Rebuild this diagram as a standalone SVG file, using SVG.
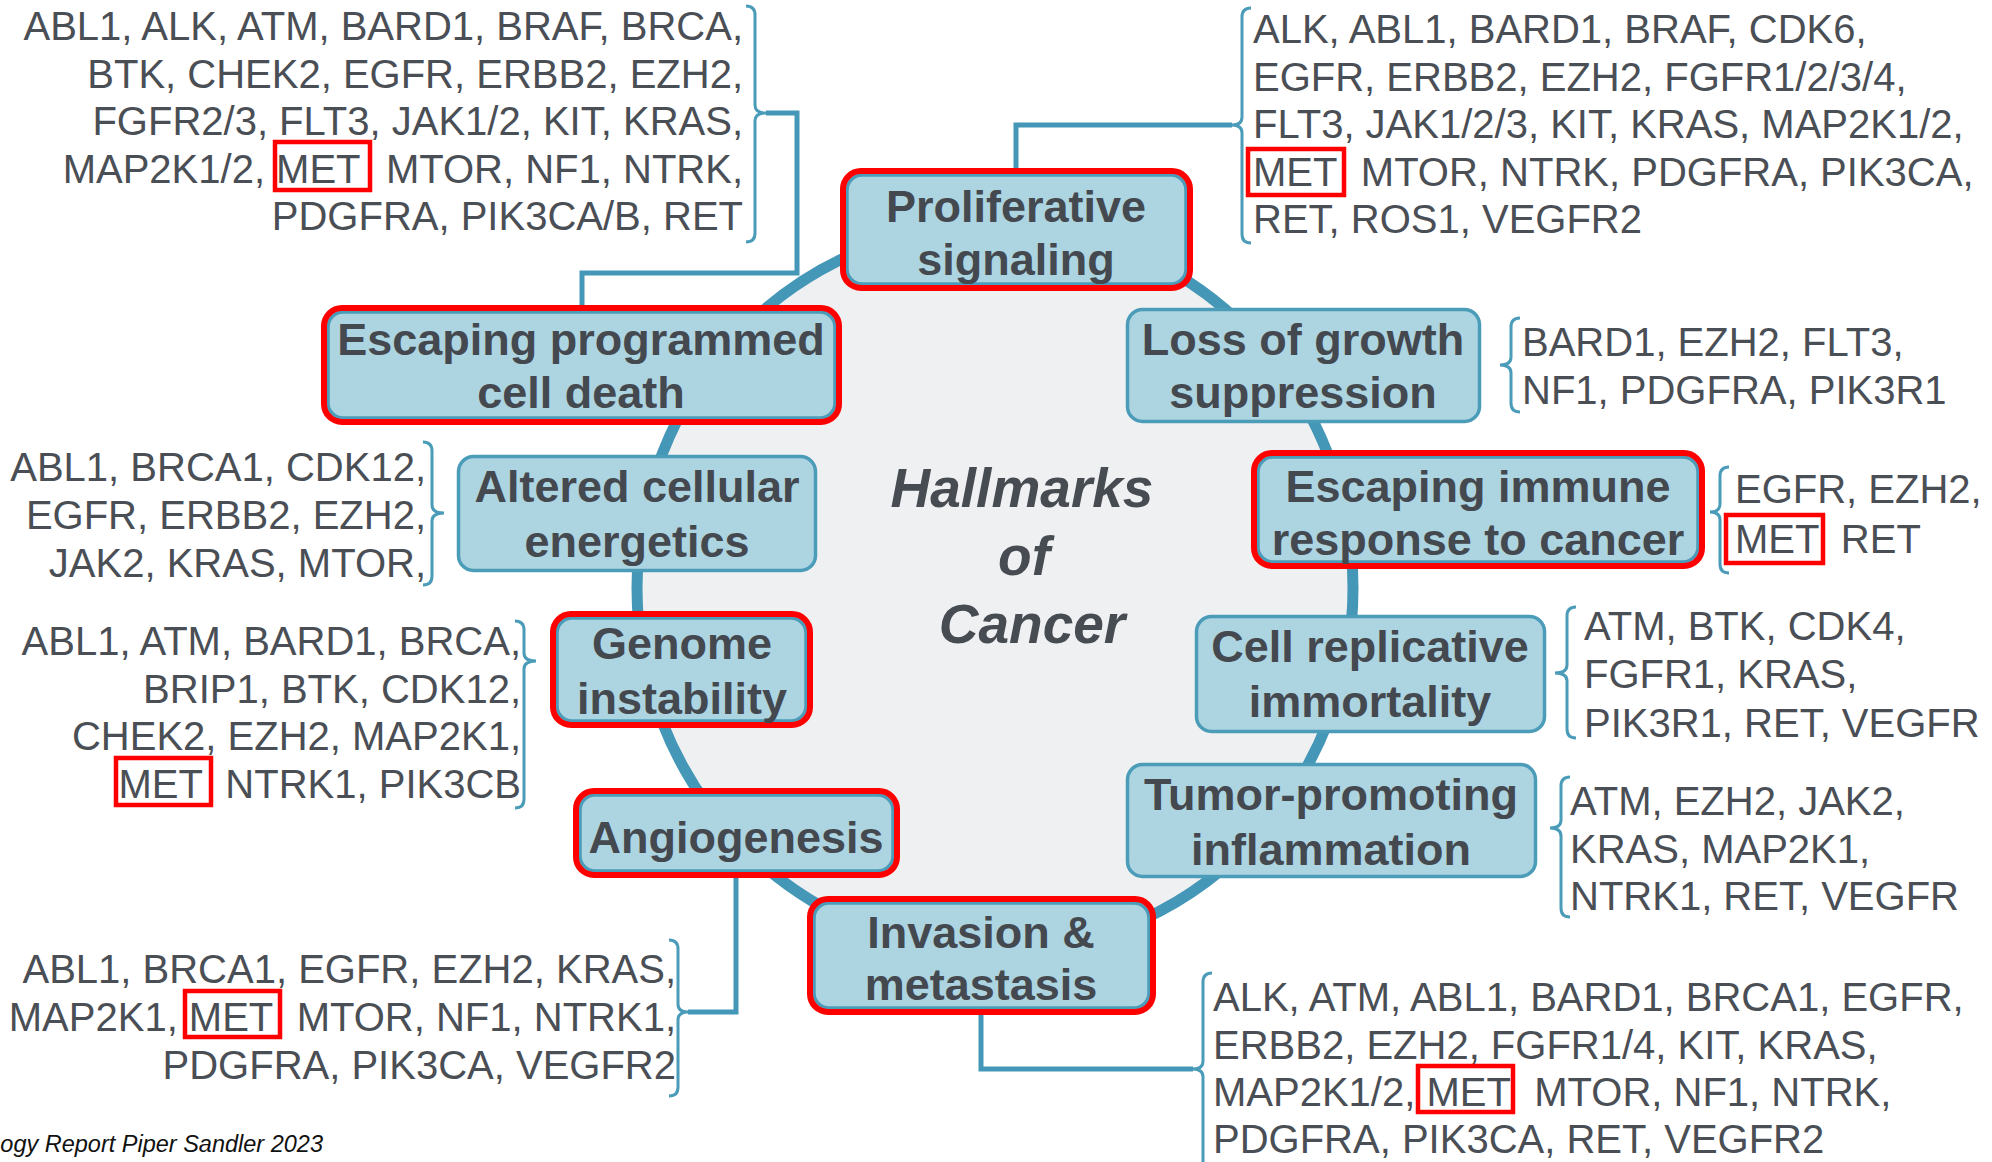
<svg xmlns="http://www.w3.org/2000/svg" width="1992" height="1162" viewBox="0 0 1992 1162">
<style>
.box{fill:#add4e1;stroke:#4b9cb9;stroke-width:3.5}
.hl{fill:none;stroke:#ff0000;stroke-width:6}
.lbl{font-family:"Liberation Sans",Arial,sans-serif;font-weight:bold;font-size:45px;fill:#44484f;text-anchor:middle}
.gene{font-family:"Liberation Sans",Arial,sans-serif;font-size:40px;fill:#4a4e55}
.end{text-anchor:end}
.brace{fill:none;stroke:#4b9cb9;stroke-width:3}
.conn{fill:none;stroke:#4497b6;stroke-width:5}
.met{fill:none;stroke:#ff0000;stroke-width:4.5}
.title{font-family:"Liberation Sans",Arial,sans-serif;font-weight:bold;font-style:italic;font-size:55px;fill:#474b52;text-anchor:middle}
</style>
<rect width="1992" height="1162" fill="#ffffff"/>
<g id="ring">
<ellipse cx="995" cy="588" rx="358" ry="364" fill="#eff0f2" stroke="#4497b6" stroke-width="11"/>
</g>
<g id="connectors">
<path class="conn" d="M766,113 H797 V273 H582 V306"/>
<path class="conn" d="M1016,172 V125 H1232"/>
<path class="conn" d="M688,1012 H736 V876"/>
<path class="conn" d="M981,1013 V1069 H1193"/>
<path class="brace" d="M746,6 Q755,6 755,15 L755,105 Q755,113 766,113 Q755,113 755,121 L755,233 Q755,242 746,242"/>
<path class="brace" d="M1251,8 Q1242,8 1242,17 L1242,117 Q1242,125 1232,125 Q1242,125 1242,133 L1242,234 Q1242,243 1251,243"/>
<path class="brace" d="M1520,318 Q1511,318 1511,327 L1511,357 Q1511,365 1500,365 Q1511,365 1511,373 L1511,403 Q1511,412 1520,412"/>
<path class="brace" d="M1729,467 Q1720,467 1720,476 L1720,504 Q1720,512 1710,512 Q1720,512 1720,520 L1720,564 Q1720,573 1729,573"/>
<path class="brace" d="M423,442 Q432,442 432,451 L432,505 Q432,513 444,513 Q432,513 432,521 L432,576 Q432,585 423,585"/>
<path class="brace" d="M515,621 Q524,621 524,630 L524,653 Q524,661 536,661 Q524,661 524,669 L524,799 Q524,808 515,808"/>
<path class="brace" d="M1576,607 Q1567,607 1567,616 L1567,665 Q1567,673 1555,673 Q1567,673 1567,681 L1567,729 Q1567,738 1576,738"/>
<path class="brace" d="M1570,777 Q1561,777 1561,786 L1561,820 Q1561,828 1550,828 Q1561,828 1561,836 L1561,908 Q1561,917 1570,917"/>
<path class="brace" d="M669,940 Q678,940 678,949 L678,1004 Q678,1012 688,1012 Q678,1012 678,1020 L678,1087 Q678,1096 669,1096"/>
<path class="brace" d="M1212,973 Q1203,973 1203,982 L1203,1061 Q1203,1069 1193,1069 Q1203,1069 1203,1077 L1203,1175"/>
</g>
<g id="center-title">
<text class="title" x="1022" y="507">Hallmarks</text>
<text class="title" x="1024" y="575">of</text>
<text class="title" x="1032" y="643">Cancer</text>
</g>
<g id="node-proliferative">
<rect class="box" x="847" y="175" width="339" height="109" rx="15"/>
<rect class="hl" x="843" y="171" width="347" height="117" rx="18"/>
<text class="lbl" x="1016" y="222">Proliferative</text>
<text class="lbl" x="1016" y="275">signaling</text>
</g>
<g id="node-escaping-death">
<rect class="box" x="328" y="312" width="507" height="106" rx="15"/>
<rect class="hl" x="324" y="308" width="515" height="114" rx="18"/>
<text class="lbl" x="581" y="355">Escaping programmed</text>
<text class="lbl" x="581" y="408">cell death</text>
</g>
<g id="node-loss-growth">
<rect class="box" x="1127.5" y="309.5" width="352" height="112" rx="15"/>
<text class="lbl" x="1303" y="355">Loss of growth</text>
<text class="lbl" x="1303" y="408">suppression</text>
</g>
<g id="node-escaping-immune">
<rect class="box" x="1258" y="457" width="440" height="105" rx="15"/>
<rect class="hl" x="1254" y="453" width="448" height="113" rx="18"/>
<text class="lbl" x="1478" y="502">Escaping immune</text>
<text class="lbl" x="1478" y="555">response to cancer</text>
</g>
<g id="node-altered">
<rect class="box" x="458.5" y="456.5" width="357" height="114" rx="15"/>
<text class="lbl" x="637" y="502">Altered cellular</text>
<text class="lbl" x="637" y="557">energetics</text>
</g>
<g id="node-genome">
<rect class="box" x="557" y="618" width="249" height="103" rx="15"/>
<rect class="hl" x="553" y="614" width="257" height="111" rx="18"/>
<text class="lbl" x="682" y="659">Genome</text>
<text class="lbl" x="682" y="714">instability</text>
</g>
<g id="node-cell-replicative">
<rect class="box" x="1196.5" y="616.5" width="348" height="115" rx="15"/>
<text class="lbl" x="1370" y="662">Cell replicative</text>
<text class="lbl" x="1370" y="717">immortality</text>
</g>
<g id="node-tumor">
<rect class="box" x="1127.5" y="764.5" width="408" height="112" rx="15"/>
<text class="lbl" x="1331" y="810">Tumor-promoting</text>
<text class="lbl" x="1331" y="865">inflammation</text>
</g>
<g id="node-angiogenesis">
<rect class="box" x="580" y="795" width="313" height="76" rx="15"/>
<rect class="hl" x="576" y="791" width="321" height="84" rx="18"/>
<text class="lbl" x="736" y="853">Angiogenesis</text>
</g>
<g id="node-invasion">
<rect class="box" x="814" y="903" width="335" height="105" rx="15"/>
<rect class="hl" x="810" y="899" width="343" height="113" rx="18"/>
<text class="lbl" x="981" y="948">Invasion &amp;</text>
<text class="lbl" x="981" y="1000">metastasis</text>
</g>
<g id="genes-escaping-death">
<text class="gene end" x="743" y="40">ABL1, ALK, ATM, BARD1, BRAF, BRCA,</text>
<text class="gene end" x="743" y="87.5">BTK, CHEK2, EGFR, ERBB2, EZH2,</text>
<text class="gene end" x="743" y="135">FGFR2/3, FLT3, JAK1/2, KIT, KRAS,</text>
<text class="gene end" x="743" y="182.5">MAP2K1/2, MET<tspan dx="15"> MTOR, NF1, NTRK,</tspan></text>
<text class="gene end" x="743" y="230">PDGFRA, PIK3CA/B, RET</text>
<rect class="met" x="275" y="142" width="95" height="48"/>
</g>
<g id="genes-proliferative">
<text class="gene" x="1253" y="43">ALK, ABL1, BARD1, BRAF, CDK6,</text>
<text class="gene" x="1253" y="90.5">EGFR, ERBB2, EZH2, FGFR1/2/3/4,</text>
<text class="gene" x="1253" y="138">FLT3, JAK1/2/3, KIT, KRAS, MAP2K1/2,</text>
<text class="gene" x="1253" y="185.5">MET<tspan dx="13"> MTOR, NTRK, PDGFRA, PIK3CA,</tspan></text>
<text class="gene" x="1253" y="233">RET, ROS1, VEGFR2</text>
<rect class="met" x="1248" y="149" width="96" height="46"/>
</g>
<g id="genes-loss-growth">
<text class="gene" x="1522" y="356">BARD1, EZH2, FLT3,</text>
<text class="gene" x="1522" y="404">NF1, PDGFRA, PIK3R1</text>
</g>
<g id="genes-escaping-immune">
<text class="gene" x="1735" y="503">EGFR, EZH2,</text>
<text class="gene" x="1735" y="553">MET<tspan dx="11"> RET</tspan></text>
<rect class="met" x="1726" y="515" width="97" height="48"/>
</g>
<g id="genes-altered">
<text class="gene end" x="426" y="481">ABL1, BRCA1, CDK12,</text>
<text class="gene end" x="426" y="529">EGFR, ERBB2, EZH2,</text>
<text class="gene end" x="426" y="577">JAK2, KRAS, MTOR,</text>
</g>
<g id="genes-genome">
<text class="gene end" x="521" y="655">ABL1, ATM, BARD1, BRCA,</text>
<text class="gene end" x="521" y="703">BRIP1, BTK, CDK12,</text>
<text class="gene end" x="521" y="750">CHEK2, EZH2, MAP2K1,</text>
<text class="gene end" x="521" y="798">MET<tspan dx="12"> NTRK1, PIK3CB</tspan></text>
<rect class="met" x="116" y="758" width="95" height="47"/>
</g>
<g id="genes-cell-replicative">
<text class="gene" x="1584" y="640">ATM, BTK, CDK4,</text>
<text class="gene" x="1584" y="688">FGFR1, KRAS,</text>
<text class="gene" x="1584" y="737">PIK3R1, RET, VEGFR</text>
</g>
<g id="genes-tumor">
<text class="gene" x="1570" y="815">ATM, EZH2, JAK2,</text>
<text class="gene" x="1570" y="863">KRAS, MAP2K1,</text>
<text class="gene" x="1570" y="910">NTRK1, RET, VEGFR</text>
</g>
<g id="genes-angiogenesis">
<text class="gene end" x="676" y="983">ABL1, BRCA1, EGFR, EZH2, KRAS,</text>
<text class="gene end" x="676" y="1031">MAP2K1, MET<tspan dx="13"> MTOR, NF1, NTRK1,</tspan></text>
<text class="gene end" x="676" y="1079">PDGFRA, PIK3CA, VEGFR2</text>
<rect class="met" x="185" y="991" width="95" height="46"/>
</g>
<g id="genes-invasion">
<text class="gene" x="1213" y="1011">ALK, ATM, ABL1, BARD1, BRCA1, EGFR,</text>
<text class="gene" x="1213" y="1059">ERBB2, EZH2, FGFR1/4, KIT, KRAS,</text>
<text class="gene" x="1213" y="1106">MAP2K1/2, MET<tspan dx="13"> MTOR, NF1, NTRK,</tspan></text>
<text class="gene" x="1213" y="1153">PDGFRA, PIK3CA, RET, VEGFR2</text>
<rect class="met" x="1418" y="1066" width="95" height="46"/>
</g>
<g id="footnote">
<text x="323" y="1152" text-anchor="end" font-family="'Liberation Sans',Arial,sans-serif" font-style="italic" font-size="23.5" fill="#111111">ogy Report Piper Sandler 2023</text>
</g>
</svg>
